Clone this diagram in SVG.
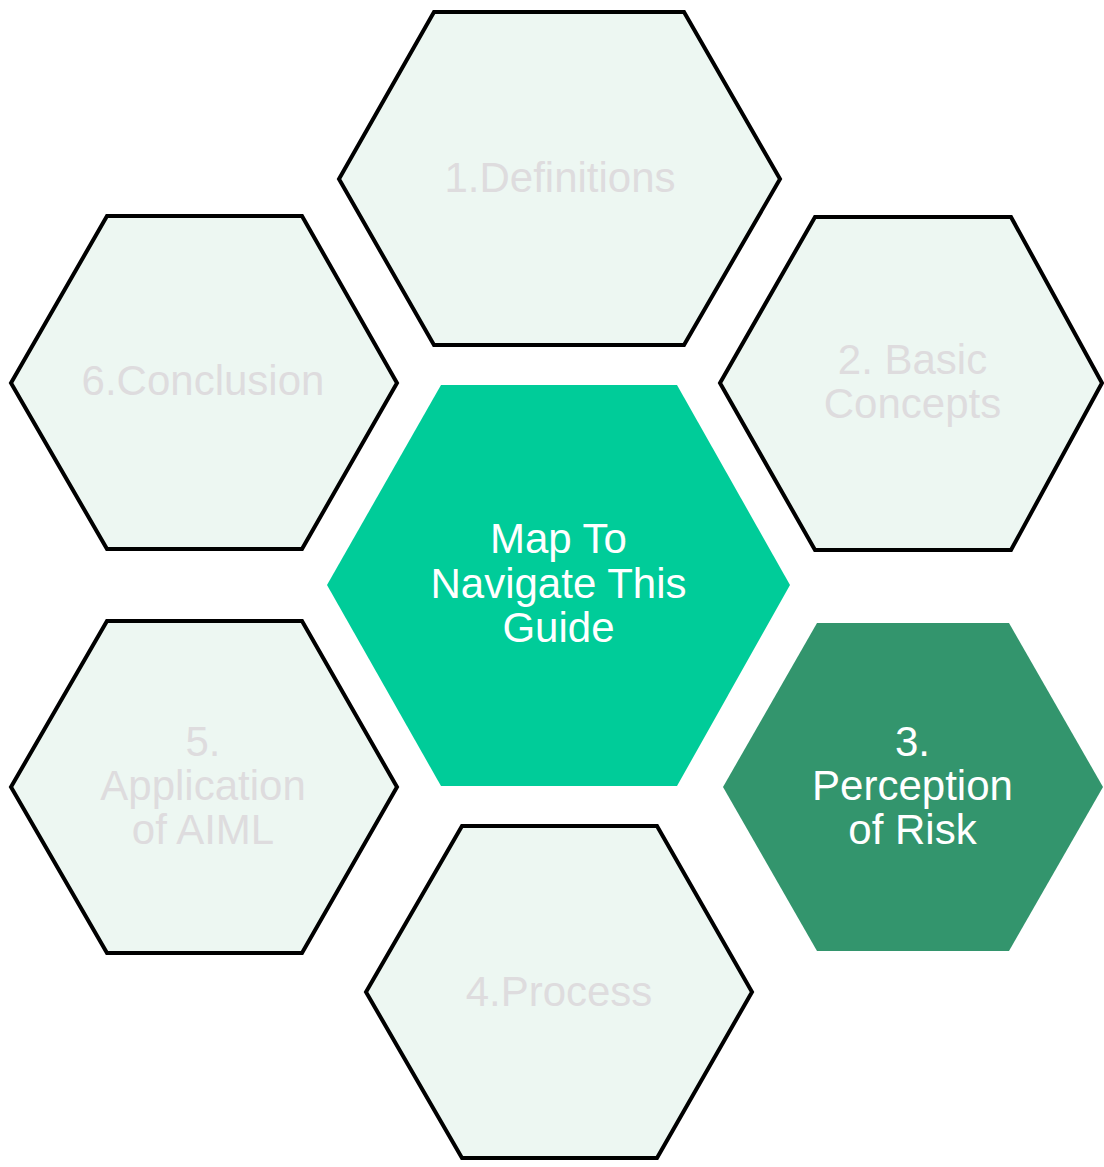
<svg xmlns="http://www.w3.org/2000/svg" width="1104" height="1167" viewBox="0 0 1104 1167">
  <style>
    .hex-light { fill: #EDF7F2; stroke: #000000; stroke-width: 4; stroke-linejoin: miter; }
    .hex-main { fill: #00CC99; }
    .hex-active { fill: #33956D; }
    .lbl { font-family: "Liberation Sans", Arial, sans-serif; font-size: 42px; text-anchor: middle; }
    .lbl-dim { fill: #DEDCDE; }
    .lbl-on { fill: #FFFFFF; }
  </style>
  <rect x="0" y="0" width="1104" height="1167" fill="#FFFFFF"/>

  <g id="connectors"/>

  <g id="node-definitions">
    <polygon class="hex-light" points="434,12 684,12 780,179 684,345 434,345 339,179"/>
    <text class="lbl lbl-dim" x="560" y="192">1.Definitions</text>
  </g>

  <g id="node-basic-concepts">
    <polygon class="hex-light" points="815,217 1011,217 1102,383 1011,550 815,550 720,383"/>
    <text class="lbl lbl-dim" x="912.5" y="374">2. Basic</text>
    <text class="lbl lbl-dim" x="912.5" y="418">Concepts</text>
  </g>

  <g id="node-conclusion">
    <polygon class="hex-light" points="107,216 302,216 397,383 302,549 107,549 11,383"/>
    <text class="lbl lbl-dim" x="203" y="395">6.Conclusion</text>
  </g>

  <g id="node-map">
    <polygon class="hex-main" points="441,385 677,385 790,585 677,786 441,786 327,585"/>
    <text class="lbl lbl-on" x="558.5" y="553">Map To</text>
    <text class="lbl lbl-on" x="558.5" y="598">Navigate This</text>
    <text class="lbl lbl-on" x="558.5" y="642">Guide</text>
  </g>

  <g id="node-perception-of-risk">
    <polygon class="hex-active" points="817,623 1009,623 1103,787 1009,951 817,951 723,787"/>
    <text class="lbl lbl-on" x="912.5" y="756">3.</text>
    <text class="lbl lbl-on" x="912.5" y="800">Perception</text>
    <text class="lbl lbl-on" x="912.5" y="844">of Risk</text>
  </g>

  <g id="node-application">
    <polygon class="hex-light" points="107,621 302,621 397,787 302,953 107,953 11,787"/>
    <text class="lbl lbl-dim" x="203" y="756">5.</text>
    <text class="lbl lbl-dim" x="203" y="800">Application</text>
    <text class="lbl lbl-dim" x="203" y="844">of AIML</text>
  </g>

  <g id="node-process">
    <polygon class="hex-light" points="462,826 657,826 752,992 657,1158 462,1158 366,992"/>
    <text class="lbl lbl-dim" x="559" y="1006">4.Process</text>
  </g>
</svg>
